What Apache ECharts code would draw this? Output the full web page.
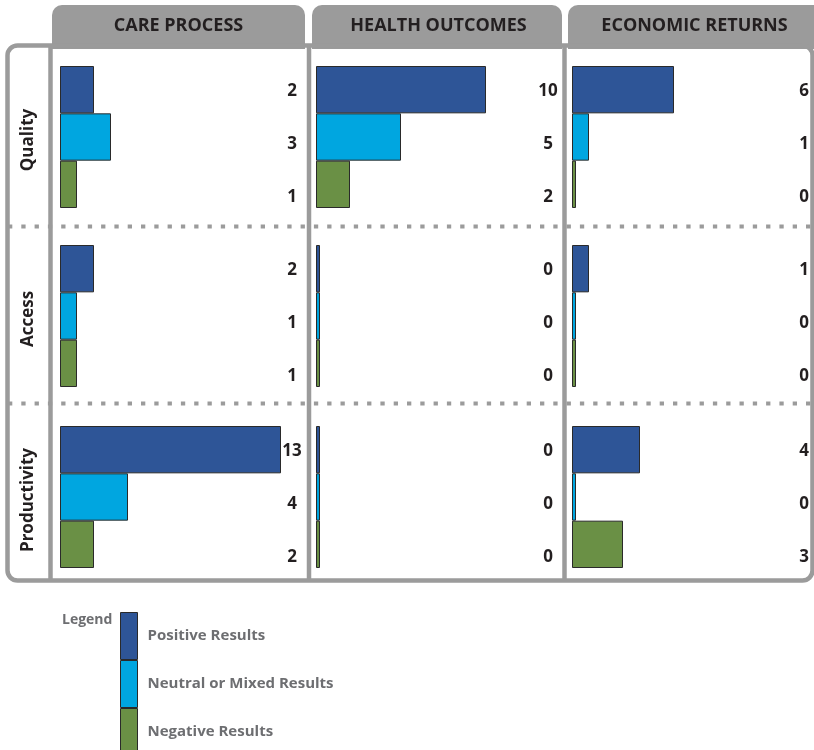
<!DOCTYPE html>
<html>
<head>
<meta charset="utf-8">
<script src="https://cdn.jsdelivr.net/npm/echarts@6/dist/echarts.min.js"></script>
<style>
  html, body { margin: 0; padding: 0; background: #ffffff; }
  #chart { width: 814px; height: 750px; }
</style>
</head>
<body>
<div id="chart"></div>
<script>
// Column headings (evaluation domains) and row headings (measures)
const domains = ['CARE PROCESS', 'HEALTH OUTCOMES', 'ECONOMIC RETURNS'];
const measures = ['Quality', 'Access', 'Productivity'];
const resultTypes = ['Positive Results', 'Neutral or Mixed Results', 'Negative Results'];

// Number of studies per result type, one array per measure,
// each entry = [positive, neutral/mixed, negative] for a domain
const qualityCounts      = [[2, 3, 1], [10, 5, 2], [6, 1, 0]];
const accessCounts       = [[2, 1, 1], [0, 0, 0], [1, 0, 0]];
const productivityCounts = [[13, 4, 2], [0, 0, 0], [4, 0, 3]];
const countsByMeasure = [qualityCounts, accessCounts, productivityCounts];

// ---- styling / layout ----
const FONT = '"Open Sans", "Noto Sans", sans-serif';
const INK = '#231f20';
const FRAME = '#9b9b9b';
const resultColors = ['#2e5597', '#00a6e0', '#6a9045'];
const colLeft = [60, 316, 572];
const rowTop = [66, 245, 426];
const cellW = 238, cellH = 142;
const AXIS_MAX = 14;
const labelDrop = [1.5, 7, 13];

const grid = [], xAxis = [], yAxis = [], series = [];
let g = 0;
measures.forEach((m, r) => {
  domains.forEach((d, c) => {
    grid.push({ left: colLeft[c], top: rowTop[r], width: cellW, height: cellH });
    xAxis.push({ gridIndex: g, type: 'value', min: 0, max: AXIS_MAX, show: false });
    yAxis.push({ gridIndex: g, type: 'category', data: resultTypes, inverse: true, show: false });
    const counts = countsByMeasure[r][c];
    resultTypes.forEach((name, k) => {
      series.push({
        type: 'bar', name: name, xAxisIndex: g, yAxisIndex: g,
        data: resultTypes.map((_, i) => (i === k ? counts[k] : '-')),
        barWidth: '100%', barGap: '-100%', barMinHeight: 4,
        itemStyle: { color: resultColors[k], borderColor: '#2a2a2a', borderWidth: 1 },
        silent: true, z: 3
      });
    });
    // count labels at the right side of each cell
    series.push({
      type: 'bar', name: 'count', xAxisIndex: g, yAxisIndex: g,
      data: counts.map((v, i) => ({ value: AXIS_MAX, count: v, label: { offset: [0, labelDrop[i]] } })),
      barWidth: '100%', barGap: '-100%',
      itemStyle: { color: 'rgba(0,0,0,0)' },
      label: {
        show: true, position: 'insideRight', distance: 6, align: 'center',
        formatter: p => String(p.data.count),
        color: INK, fontSize: 17, fontWeight: 'bold', fontFamily: FONT
      },
      silent: true, z: 4
    });
    g++;
  });
});

// frame, tabs and separators
const graphics = [];
const tabs = [[52, 253], [312, 250], [568, 260]];
tabs.forEach(([x, w], i) => {
  graphics.push({ type: 'rect', shape: { x: x, y: 5, width: w, height: 44, r: [10, 10, 0, 0] },
    style: { fill: FRAME }, z: 0 });
  graphics.push({ type: 'text', x: x + 126.5, y: 26,
    style: { text: domains[i], textAlign: 'center', textVerticalAlign: 'middle',
      fill: INK, font: 'bold 18px ' + FONT }, z: 5 });
});
graphics.push({ type: 'rect', shape: { x: 7.5, y: 45.5, width: 805, height: 535, r: 10 },
  style: { fill: 'none', stroke: FRAME, lineWidth: 4.5 }, z: 1 });
[226.5, 403.5].forEach(y => {
  graphics.push({ type: 'line', shape: { x1: 8, y1: y, x2: 812, y2: y },
    style: { stroke: FRAME, lineWidth: 4, lineDash: [4.3, 9] }, z: 1 });
});
[50.5, 309, 564.5].forEach(x => {
  graphics.push({ type: 'line', shape: { x1: x, y1: 45, x2: x, y2: 580 },
    style: { stroke: FRAME, lineWidth: 4.5 }, z: 2 });
});
measures.forEach((m, r) => {
  graphics.push({ type: 'text', x: 28, y: rowTop[r] + cellH / 2 + 3, rotation: Math.PI / 2,
    style: { text: m, textAlign: 'center', textVerticalAlign: 'middle',
      fill: INK, font: 'bold 17px ' + FONT }, z: 5 });
});

const chart = echarts.init(document.getElementById('chart'), null, { renderer: 'canvas' });
chart.setOption({
  animation: false,
  backgroundColor: '#ffffff',
  title: { text: 'Legend', left: 62, top: 613, padding: 0,
    textStyle: { color: '#6d6e71', fontSize: 14, fontWeight: 'bold', fontFamily: FONT } },
  legend: {
    data: resultTypes, orient: 'vertical', left: 120, top: 612, height: 160, padding: 0,
    itemWidth: 17, itemHeight: 47, itemGap: 0, icon: 'rect', selectedMode: false,
    itemStyle: { borderWidth: 1, borderColor: '#2a2a2a' },
    textStyle: { color: '#6d6e71', fontSize: 15, fontWeight: 'bold', fontFamily: FONT, padding: [0, 0, 0, 5] }
  },
  grid: grid, xAxis: xAxis, yAxis: yAxis, series: series,
  graphic: graphics
});
</script>
</body>
</html>
